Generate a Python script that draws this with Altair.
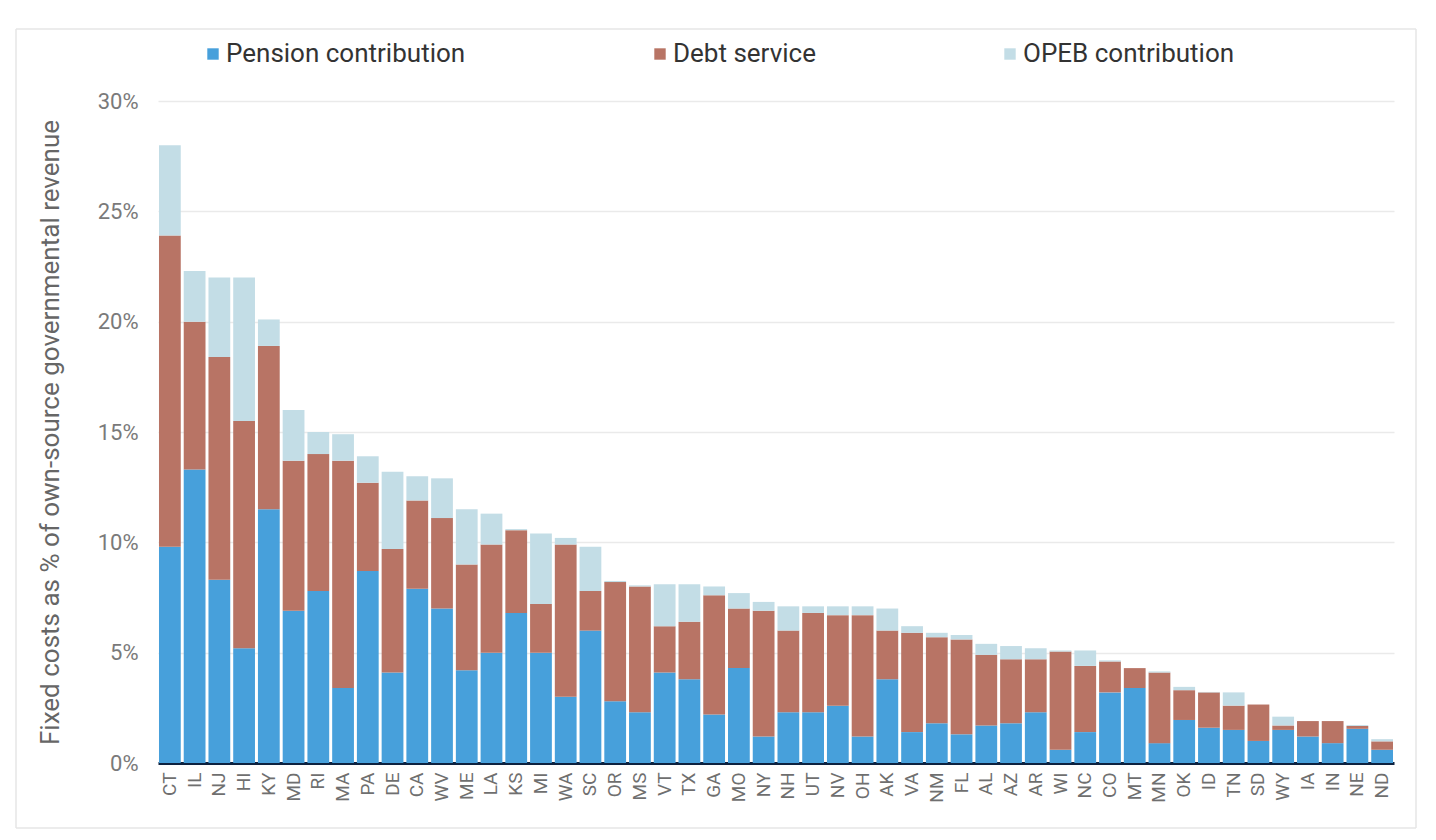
import altair as alt
import pandas as pd

states = ["CT", "IL", "NJ", "HI", "KY", "MD", "RI", "MA", "PA", "DE", "CA", "WV", "ME", "LA",
          "KS", "MI", "WA", "SC", "OR", "MS", "VT", "TX", "GA", "MO", "NY", "NH", "UT", "NV",
          "OH", "AK", "VA", "NM", "FL", "AL", "AZ", "AR", "WI", "NC", "CO", "MT", "MN", "OK",
          "ID", "TN", "SD", "WY", "IA", "IN", "NE", "ND"]

pension = [9.8, 13.3, 8.3, 5.2, 11.5, 6.9, 7.8, 3.4, 8.7, 4.1, 7.9, 7.0, 4.2, 5.0,
           6.8, 5.0, 3.0, 6.0, 2.8, 2.3, 4.1, 3.8, 2.2, 4.3, 1.2, 2.3, 2.3, 2.6,
           1.2, 3.8, 1.4, 1.8, 1.3, 1.7, 1.8, 2.3, 0.6, 1.4, 3.2, 3.4, 0.9, 1.95,
           1.6, 1.5, 1.0, 1.5, 1.2, 0.9, 1.55, 0.6]

debt = [14.1, 6.7, 10.1, 10.3, 7.4, 6.8, 6.2, 10.3, 4.0, 5.6, 4.0, 4.1, 4.8, 4.9,
        3.75, 2.2, 6.9, 1.8, 5.4, 5.7, 2.1, 2.6, 5.4, 2.7, 5.7, 3.7, 4.5, 4.1,
        5.5, 2.2, 4.5, 3.9, 4.3, 3.2, 2.9, 2.4, 4.45, 3.0, 1.4, 0.9, 3.2, 1.35,
        1.6, 1.1, 1.65, 0.2, 0.7, 1.0, 0.13, 0.38]

opeb = [4.1, 2.3, 3.6, 6.5, 1.2, 2.3, 1.0, 1.2, 1.2, 3.5, 1.1, 1.8, 2.5, 1.4,
        0.05, 3.2, 0.3, 2.0, 0.05, 0.05, 1.9, 1.7, 0.4, 0.7, 0.4, 1.1, 0.3, 0.4,
        0.4, 1.0, 0.3, 0.2, 0.2, 0.5, 0.6, 0.5, 0.05, 0.7, 0.05, 0.0, 0.05, 0.15,
        0.02, 0.6, 0.0, 0.4, 0.0, 0.0, 0.04, 0.1]

series = ["Pension contribution", "Debt service", "OPEB contribution"]
colors = ["#47A0DB", "#B87465", "#C3DDE6"]
y_ticks = [0, 5, 10, 15, 20, 25, 30]

rows = []
for i, s in enumerate(states):
    for k, vals in enumerate([pension, debt, opeb]):
        rows.append({"state": s, "series": series[k], "order": k, "value": vals[i]})
df = pd.DataFrame(rows)

FONT = "Roboto"

bars = alt.Chart(df).mark_bar().encode(
    x=alt.X("state:N", sort=states,
            scale=alt.Scale(paddingInner=0.12, paddingOuter=0.04),
            axis=alt.Axis(title=None, labelAngle=-90, labelFontSize=19, labelColor="#6f6f6f",
                          labelPadding=9, ticks=False, grid=False,
                          domainColor="#0d2240", domainWidth=3, labelFont=FONT)),
    y=alt.Y("value:Q", stack="zero",
            scale=alt.Scale(domain=[0, 30], nice=False),
            axis=alt.Axis(values=y_ticks, labelExpr="datum.value + '%'",
                          title="Fixed costs as % of own-source governmental revenue",
                          titleFontSize=26, titleColor="#666666", titleFontWeight="normal",
                          titlePadding=34, titleFont=FONT,
                          labelFontSize=22, labelColor="#7a7a7a", labelPadding=20, labelFont=FONT,
                          ticks=False, domain=False, gridColor="#eaeaea", gridWidth=1.5)),
    color=alt.Color("series:N", scale=alt.Scale(domain=series, range=colors),
                    legend=alt.Legend(title=None, orient="none", legendX=42, legendY=-60,
                                      direction="horizontal", symbolType="square",
                                      symbolSize=130, symbolStrokeWidth=0,
                                      labelFontSize=26, labelColor="#333333", labelFont=FONT,
                                      labelOffset=0, columnPadding=181, labelLimit=400)),
    order=alt.Order("order:Q", sort="ascending"),
)

one = pd.DataFrame({"a": [0]})
frame_style = dict(color="#e6e6e6", strokeWidth=1.5)
frame_top = alt.Chart(one).mark_rule(**frame_style).encode(
    x=alt.value(-142), x2=alt.value(1258), y=alt.value(-72))
frame_bottom = alt.Chart(one).mark_rule(**frame_style).encode(
    x=alt.value(-142), x2=alt.value(1258), y=alt.value(727))
frame_left = alt.Chart(one).mark_rule(**frame_style).encode(
    x=alt.value(-142), y=alt.value(-72), y2=alt.value(727))
frame_right = alt.Chart(one).mark_rule(**frame_style).encode(
    x=alt.value(1258), y=alt.value(-72), y2=alt.value(727))

chart = alt.layer(frame_top, frame_bottom, frame_left, frame_right, bars).properties(
    width=1236, height=662,
    padding={"left": 7, "top": 20, "right": 0, "bottom": 0},
    background="white",
    view=alt.ViewBackground(stroke="transparent", strokeWidth=0, strokeOpacity=0),
).configure_view(stroke="transparent", strokeWidth=0, strokeOpacity=0).configure(font=FONT)

chart.save("out.html", embed_options={"renderer": "svg", "actions": False})
